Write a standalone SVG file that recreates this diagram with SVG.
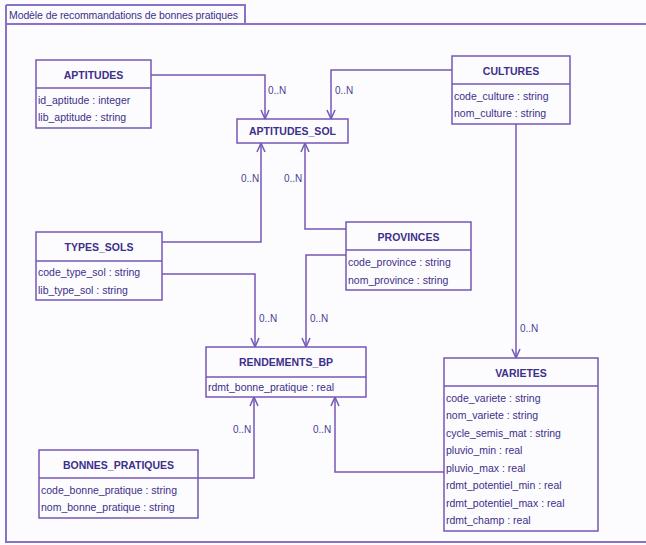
<svg xmlns="http://www.w3.org/2000/svg" width="646" height="545" viewBox="0 0 646 545">
<defs>
<style>
.bg{fill:#fcfcfe}
.frame{fill:none;stroke:#8a72c8;stroke-width:2}
.box{fill:#fcfcfe;stroke:#7557b5;stroke-width:1.5}
.div{stroke:#7557b5;stroke-width:1.5}
.t{font-family:"Liberation Sans",Arial,sans-serif;font-size:10.5px;font-weight:bold;fill:#3d2f8a;text-anchor:middle}
.a{font-family:"Liberation Sans",Arial,sans-serif;font-size:10.5px;fill:#3d2f8a}
.lbl{font-family:"Liberation Sans",Arial,sans-serif;font-size:10px;fill:#4a3c96}
.c{fill:none;stroke:#7557b5;stroke-width:1.5}
</style>
<marker id="arr" markerUnits="userSpaceOnUse" markerWidth="14" markerHeight="14" viewBox="-10 -7 14 14" refX="0" refY="0" orient="auto" overflow="visible">
<path d="M-9,-4 L0,0 L-9,4" fill="none" stroke="#7557b5" stroke-width="1.5"/>
</marker>
</defs>
<rect class="bg" x="0" y="0" width="646" height="545"/>
<g id="frame">
<path class="frame" d="M6,24 H647 M6,5 V542 H647 M6,5 H245 V24"/>
<text class="a" x="9" y="19" font-size="11" textLength="229">Modèle de recommandations de bonnes pratiques</text>
</g>
<g id="connectors">
<path class="c" d="M151,75 H265 V119" marker-end="url(#arr)"/>
<path class="c" d="M452,70 H331 V119" marker-end="url(#arr)"/>
<path class="c" d="M162,242 H261 V143" marker-end="url(#arr)"/>
<path class="c" d="M346,229 H305 V143" marker-end="url(#arr)"/>
<path class="c" d="M162,274 H255 V347" marker-end="url(#arr)"/>
<path class="c" d="M346,255 H306 V347" marker-end="url(#arr)"/>
<path class="c" d="M516,124 V358" marker-end="url(#arr)"/>
<path class="c" d="M198,478 H254 V397" marker-end="url(#arr)"/>
<path class="c" d="M444,472 H335 V397" marker-end="url(#arr)"/>
<text class="lbl" x="268" y="94">0..N</text>
<text class="lbl" x="335" y="94">0..N</text>
<text class="lbl" x="241" y="182">0..N</text>
<text class="lbl" x="284" y="182">0..N</text>
<text class="lbl" x="259" y="322">0..N</text>
<text class="lbl" x="310" y="322">0..N</text>
<text class="lbl" x="520" y="332">0..N</text>
<text class="lbl" x="233" y="433">0..N</text>
<text class="lbl" x="313" y="433">0..N</text>
</g>
<g id="APTITUDES">
<rect class="box" x="36" y="60" width="115" height="68"/>
<line class="div" x1="36" y1="88" x2="151" y2="88"/>
<text class="t" x="93.5" y="79">APTITUDES</text>
<text class="a" x="38" y="104">id_aptitude : integer</text>
<text class="a" x="38" y="121">lib_aptitude : string</text>
</g>
<g id="APTITUDES_SOL">
<rect class="box" x="237" y="119" width="111" height="24"/>
<text class="t" x="292.5" y="135">APTITUDES_SOL</text>
</g>
<g id="CULTURES">
<rect class="box" x="452" y="56" width="118" height="68"/>
<line class="div" x1="452" y1="84" x2="570" y2="84"/>
<text class="t" x="511" y="75">CULTURES</text>
<text class="a" x="454" y="100">code_culture : string</text>
<text class="a" x="454" y="117">nom_culture : string</text>
</g>
<g id="TYPES_SOLS">
<rect class="box" x="36" y="232" width="126" height="68"/>
<line class="div" x1="36" y1="261" x2="162" y2="261"/>
<text class="t" x="99" y="251">TYPES_SOLS</text>
<text class="a" x="38" y="276">code_type_sol : string</text>
<text class="a" x="38" y="294">lib_type_sol : string</text>
</g>
<g id="PROVINCES">
<rect class="box" x="346" y="222" width="125" height="68"/>
<line class="div" x1="346" y1="250" x2="471" y2="250"/>
<text class="t" x="408.5" y="241">PROVINCES</text>
<text class="a" x="348" y="266">code_province : string</text>
<text class="a" x="348" y="284">nom_province : string</text>
</g>
<g id="RENDEMENTS_BP">
<rect class="box" x="206" y="347" width="160" height="50"/>
<line class="div" x1="206" y1="377" x2="366" y2="377"/>
<text class="t" x="286" y="366">RENDEMENTS_BP</text>
<text class="a" x="208" y="391">rdmt_bonne_pratique : real</text>
</g>
<g id="BONNES_PRATIQUES">
<rect class="box" x="39" y="450" width="159" height="68"/>
<line class="div" x1="39" y1="478" x2="198" y2="478"/>
<text class="t" x="118.5" y="469">BONNES_PRATIQUES</text>
<text class="a" x="41" y="494">code_bonne_pratique : string</text>
<text class="a" x="41" y="511">nom_bonne_pratique : string</text>
</g>
<g id="VARIETES">
<rect class="box" x="444" y="358" width="154" height="173"/>
<line class="div" x1="444" y1="386" x2="598" y2="386"/>
<text class="t" x="521" y="377">VARIETES</text>
<text class="a" x="446" y="402">code_variete : string</text>
<text class="a" x="446" y="419">nom_variete : string</text>
<text class="a" x="446" y="437">cycle_semis_mat : string</text>
<text class="a" x="446" y="454">pluvio_min : real</text>
<text class="a" x="446" y="472">pluvio_max : real</text>
<text class="a" x="446" y="489">rdmt_potentiel_min : real</text>
<text class="a" x="446" y="507">rdmt_potentiel_max : real</text>
<text class="a" x="446" y="524">rdmt_champ : real</text>
</g>
</svg>
